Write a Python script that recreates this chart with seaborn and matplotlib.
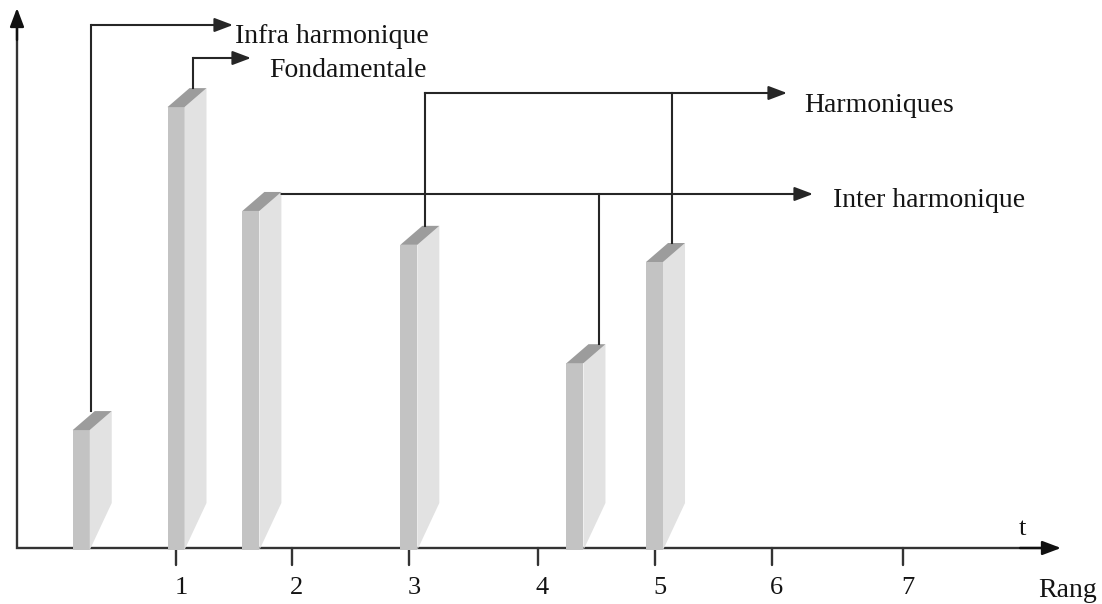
import numpy as np
import pandas as pd
import matplotlib
matplotlib.use("Agg")
import matplotlib.pyplot as plt
from matplotlib.patches import Polygon
import seaborn as sns

# ---------------- data ----------------
components = ["Infra harmonique", "Fondamentale", "Inter harmonique",
              "Harmonique 3", "Inter harmonique", "Harmonique 5"]
rang = [0.19, 1.0, 1.64, 2.99, 4.41, 5.09]
amplitude = [2.68, 10.02, 7.66, 6.89, 4.20, 6.50]
tick_values = [1.0, 1.99, 2.99, 4.09, 5.09, 6.09, 7.21]
tick_labels = ["1", "2", "3", "4", "5", "6", "7"]
annotation_labels = ["Infra harmonique", "Fondamentale", "Harmoniques", "Inter harmonique"]
annotation_groups = [[0], [1], [3, 5], [2, 4]]

# ---------------- layout (pixel based) ----------------
W, H = 1102, 604
SX, SY = 117.0, 44.0            # px per data unit
XMIN = 1 - 176 / SX
XMAX = XMIN + W / SX
YMAX = 548 / SY
YMIN = YMAX - H / SY

def X(px):
    return XMIN + px / SX

def Y(py):
    return YMAX - py / SY

def dxp(px):
    return px / SX

def dyp(px):
    return px / SY

FRONT_W = dxp(17)
DX = dxp(22)
DYT = dyp(19)
DYB = dyp(45)
FRONT_C = "#c3c3c3"
SIDE_C = "#e2e2e2"
TOP_C = "#9c9c9c"
LINE_C = "#262626"
AXIS_C = "#333333"
TEXT_C = "#141414"

levels_py = [25, 58, 93, 194]
tips_px = [233, 251, 787, 813]
label_x_px = [235, 269, 804, 833]
label_base_py = [43, 77, 112, 207]
start_mode = ["top", "top", "top", "side"]
anchor_off_px = [10, 17, 16, 16, 24, 17]

sns.set_theme(style="white")
plt.rcParams["font.family"] = ["Liberation Serif", "DejaVu Serif"]

fig = plt.figure(figsize=(W / 100, H / 100), dpi=100)
ax = fig.add_axes([0, 0, 1, 1])

df = pd.DataFrame({"rang": rang, "amplitude": amplitude, "composante": components})
sns.barplot(data=df, x="rang", y="amplitude", native_scale=True, color=FRONT_C,
            saturation=1, errorbar=None, linewidth=0, ax=ax, zorder=3)

ax.set_xlim(XMIN, XMAX)
ax.set_ylim(YMIN, YMAX)
ax.set_axis_off()

# 3D faces built from the seaborn bars
bars = list(ax.patches)
anchors = []
geo = []
for p, off in zip(bars, anchor_off_px):
    cx = p.get_x() + p.get_width() / 2
    h = p.get_height()
    xl = cx - FRONT_W / 2
    xr = cx + FRONT_W / 2
    p.set_x(xl)
    p.set_width(FRONT_W)
    p.set_y(-dyp(2))
    p.set_height(h + dyp(2))
    p.set_facecolor(FRONT_C)
    p.set_edgecolor("none")
    side = Polygon([(xr, -dyp(2)), (xr, h), (xr + DX, h + DYT), (xr + DX, DYB)],
                   closed=True, facecolor=SIDE_C, edgecolor="none", zorder=3)
    top = Polygon([(xl, h), (xr, h), (xr + DX, h + DYT), (xl + DX, h + DYT)],
                  closed=True, facecolor=TOP_C, edgecolor="none", zorder=3)
    ax.add_patch(side)
    ax.add_patch(top)
    anchors.append((cx + dxp(off), h + DYT))
    geo.append((xl, xr, h))

# axes with arrows
x0 = X(17)
ax.plot([x0, x0, X(1050)], [Y(20), 0, 0], color=AXIS_C, lw=1.7,
        solid_joinstyle="miter", zorder=2)
arr_axis = dict(arrowstyle="-|>,head_length=0.45,head_width=0.17", color="#111111",
                lw=1.7, shrinkA=0, shrinkB=0, mutation_scale=25)
ax.annotate("", xy=(x0, Y(8)), xytext=(x0, Y(40)), arrowprops=arr_axis, zorder=2)
ax.annotate("", xy=(X(1061), 0), xytext=(X(1020), 0), arrowprops=arr_axis, zorder=2)

for t, lab in zip(tick_values, tick_labels):
    ax.plot([t, t], [0, -dyp(17)], color=AXIS_C, lw=1.7, zorder=2)
    ax.text(t + dxp(5), Y(594), lab, ha="center", va="baseline",
            fontsize=19, color=TEXT_C)

ax.text(X(1019), Y(535), "t", ha="left", va="baseline", fontsize=19, color=TEXT_C)
ax.text(X(1038), Y(597), "Rang", ha="left", va="baseline", fontsize=20, color=TEXT_C)

# leader lines and labels
arr_lead = dict(arrowstyle="-|>,head_length=0.45,head_width=0.17", color=LINE_C,
                lw=1.5, shrinkA=0, shrinkB=0, mutation_scale=25)
for lab, grp, lev, tip, lx, lb, mode in zip(annotation_labels, annotation_groups,
                                              levels_py, tips_px, label_x_px,
                                              label_base_py, start_mode):
    level = Y(lev)
    if mode == "side":
        first = grp[0]
        xl, xr, h = geo[first]
        xs = xr + DX
        others = grp[1:]
    else:
        xs = anchors[grp[0]][0]
        others = grp
    for i in others:
        axx, ayy = anchors[i]
        ax.plot([axx, axx], [ayy, level], color=LINE_C, lw=1.5,
                solid_capstyle="projecting", zorder=4)
    ax.annotate("", xy=(X(tip), level), xytext=(xs, level),
                arrowprops=arr_lead, zorder=4)
    ax.text(X(lx), Y(lb), lab, ha="left", va="baseline", fontsize=20, color=TEXT_C)

fig.savefig("out.png", dpi=100)
